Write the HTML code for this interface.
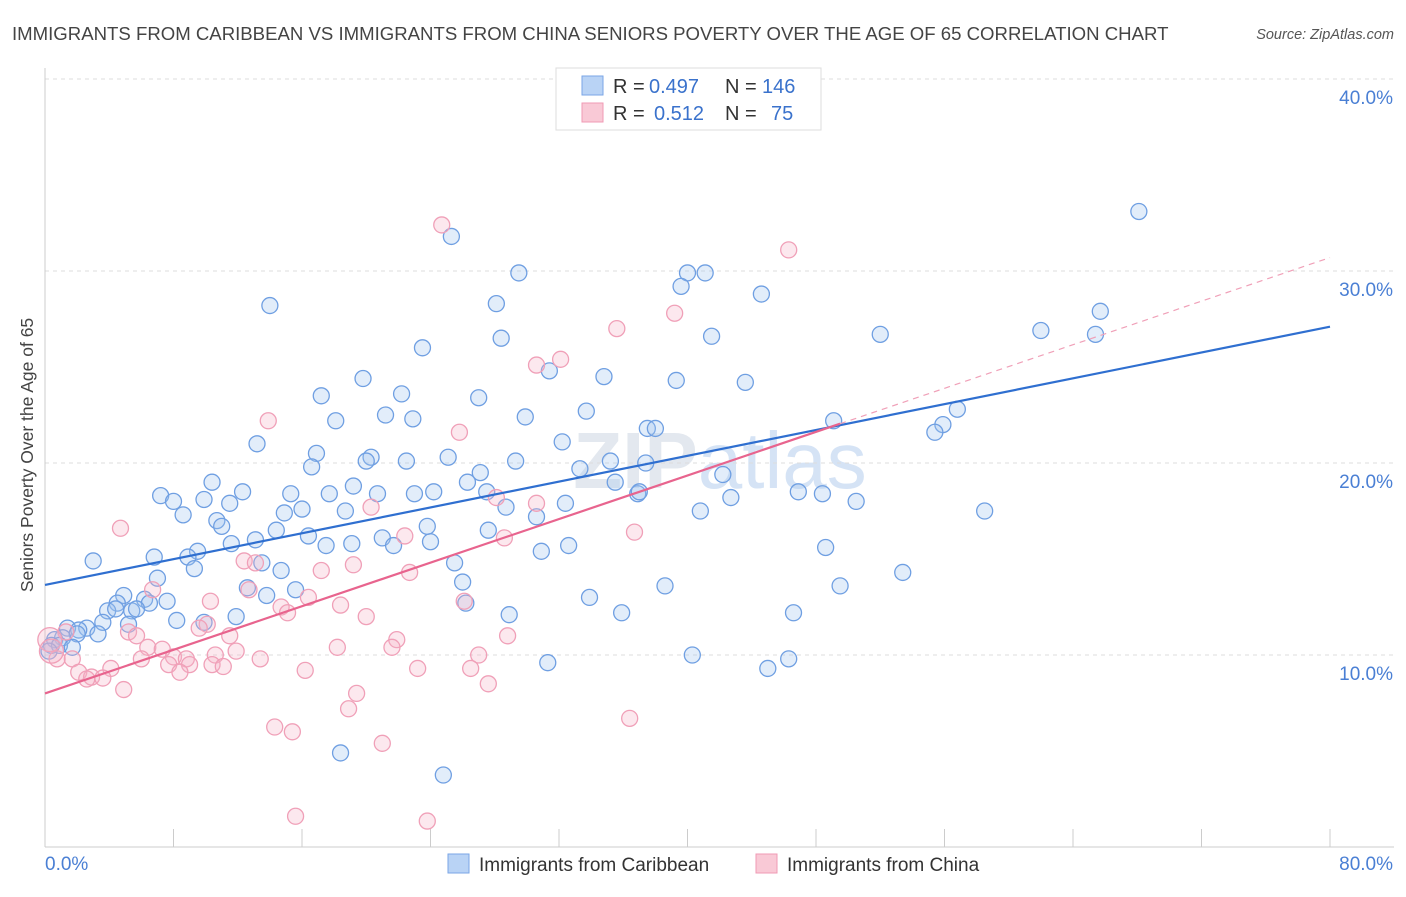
<!DOCTYPE html>
<html><head><meta charset="utf-8"><style>
body{margin:0;background:#fff;font-family:"Liberation Sans",sans-serif;}
svg text{font-family:"Liberation Sans",sans-serif;}
</style></head><body>
<svg id="chart" width="1406" height="892" xmlns="http://www.w3.org/2000/svg">
<text x="12" y="40" font-size="18.6" fill="#444">IMMIGRANTS FROM CARIBBEAN VS IMMIGRANTS FROM CHINA SENIORS POVERTY OVER THE AGE OF 65 CORRELATION CHART</text>
<text x="1394" y="39" font-size="14.5" fill="#555" font-style="italic" text-anchor="end">Source: ZipAtlas.com</text>
<text x="720" y="488" font-size="80" fill="#e3e8ef" text-anchor="middle" font-family="Liberation Serif" font-weight="bold">ZIP<tspan font-family="Liberation Sans" font-weight="normal" fill="#d5e3f5">atlas</tspan></text>
<g id="grid"></g><g id="marks"></g><g id="lines"></g>
<text transform="translate(33,455) rotate(-90)" font-size="17.5" fill="#444" text-anchor="middle">Seniors Poverty Over the Age of 65</text>
<g>
<rect x="556" y="68" width="265" height="62" fill="#fff" stroke="#ddd"/>
<rect x="582" y="76" width="21" height="19" fill="#b9d3f5" stroke="#7aa6e6"/>
<rect x="582" y="103" width="21" height="19" fill="#f9c9d6" stroke="#f09ab4"/>
<text x="613" y="93" font-size="20" fill="#333">R =</text>
<text x="649" y="93" font-size="20" fill="#3a72cc">0.497</text>
<text x="725" y="93" font-size="20" fill="#333">N =</text>
<text x="762" y="93" font-size="20" fill="#3a72cc">146</text>
<text x="613" y="120" font-size="20" fill="#333">R =</text>
<text x="654" y="120" font-size="20" fill="#3a72cc">0.512</text>
<text x="725" y="120" font-size="20" fill="#333">N =</text>
<text x="771" y="120" font-size="20" fill="#3a72cc">75</text>
</g>
<g>
<rect x="448" y="854" width="21" height="19" fill="#b9d3f5" stroke="#7aa6e6"/>
<text x="479" y="871" font-size="19" fill="#333">Immigrants from Caribbean</text>
<rect x="756" y="854" width="21" height="19" fill="#f9c9d6" stroke="#f09ab4"/>
<text x="787" y="871" font-size="19" fill="#333">Immigrants from China</text>
</g>
</svg>
<script>
const yTicks=[10,20,30,40];
const yTickLabels=["10.0%","20.0%","30.0%","40.0%"];
const xTicks=[0,8,16,24,32,40,48,56,64,72,80];
const xEndLabels=["0.0%","80.0%"];
const blueX=[68.1,25.3,29.5,40.0,41.1,39.6,44.6,14.0,28.1,65.7,52.0,62.0,65.4,41.5,28.4,23.5,31.4,34.8,19.8,39.3,43.6,17.2,22.2,27.0,33.7,56.8,21.2,22.9,29.9,18.1,49.1,55.9,55.4,37.5,38.0,32.2,13.2,16.9,20.3,20.0,25.1,22.5,29.3,35.2,37.4,33.3,16.6,27.1,42.2,26.3,10.4,35.5,19.2,7.2,12.3,15.3,17.7,20.7,23.0,24.2,27.5,36.9,37.0,46.9,48.4,8.0,9.9,11.5,42.7,50.5,32.4,16.0,18.7,28.7,14.9,40.8,58.5,8.6,10.7,30.6,11.0,23.8,14.4,27.6,16.4,21.0,11.6,13.1,17.5,19.1,21.7,24.0,32.6,48.6,9.5,30.9,3.0,6.8,8.9,13.5,25.5,9.3,14.7,53.4,7.0,26.0,38.6,49.5,12.6,15.6,4.9,13.8,33.9,4.5,6.2,7.6,6.5,26.2,3.9,4.4,5.4,5.7,35.9,46.6,28.9,11.9,8.2,3.6,9.9,5.2,1.4,2.6,2.1,3.3,2.0,1.1,0.6,0.4,0.9,1.7,0.25,40.3,46.3,31.3,45.0,18.4,24.8];
const blueY=[33.1,31.8,29.9,29.9,29.9,29.2,28.8,28.2,28.3,27.9,26.7,26.9,26.7,26.6,26.5,26.0,24.8,24.5,24.4,24.3,24.2,23.5,23.6,23.4,22.7,22.8,22.5,22.3,22.4,22.2,22.2,22.0,21.6,21.8,21.8,21.1,21.0,20.5,20.3,20.1,20.3,20.1,20.1,20.1,20.0,19.7,19.8,19.5,19.4,19.0,19.0,19.0,18.8,18.3,18.5,18.4,18.4,18.4,18.4,18.5,18.5,18.4,18.5,18.5,18.4,18.0,18.1,17.9,18.2,18.0,17.9,17.6,17.5,17.7,17.4,17.5,17.5,17.3,17.0,17.2,16.7,16.7,16.5,16.5,16.2,16.1,15.8,16.0,15.7,15.8,15.7,15.9,15.7,15.6,15.4,15.4,14.9,15.1,15.1,14.8,14.8,14.5,14.4,14.3,14.0,13.8,13.6,13.6,13.5,13.4,13.1,13.1,13.0,12.7,12.9,12.8,12.7,12.7,12.3,12.4,12.3,12.4,12.2,12.2,12.1,12.0,11.8,11.7,11.7,11.6,11.4,11.4,11.3,11.1,11.1,10.9,10.8,10.5,10.5,10.4,10.2,10.0,9.8,9.6,9.3,4.9,3.75];
const pinkX=[24.7,46.3,39.2,35.6,32.1,30.6,13.9,25.8,28.1,20.3,30.6,4.7,36.7,22.4,28.6,12.4,13.1,19.2,17.2,22.7,6.7,12.7,16.4,10.3,26.1,14.7,18.4,15.1,20.0,10.1,9.6,5.2,1.3,5.7,11.5,21.9,28.8,21.6,18.2,6.4,7.3,11.9,6.0,8.0,10.6,13.4,8.8,27.0,1.7,0.75,7.7,10.4,9.0,11.1,4.1,2.1,16.2,23.2,26.5,8.4,2.9,3.6,2.6,27.6,4.9,19.4,18.9,36.4,14.3,15.4,21.0,15.6,23.8,0.3,0.4];
const pinkY=[32.4,31.1,27.8,27.0,25.4,25.1,22.2,21.6,18.2,17.7,17.9,16.6,16.4,16.2,16.1,14.9,14.8,14.7,14.4,14.3,13.4,13.4,13.0,12.8,12.8,12.5,12.6,12.2,12.0,11.6,11.4,11.2,11.2,11.0,11.0,10.8,11.0,10.4,10.4,10.4,10.3,10.2,9.8,9.9,10.0,9.8,9.8,10.0,9.8,9.8,9.5,9.5,9.5,9.4,9.3,9.1,9.2,9.3,9.3,9.1,8.85,8.8,8.75,8.5,8.2,8.0,7.2,6.7,6.25,6.0,5.4,1.6,1.35,10.8,10.2];
const blueTrend=[13.65,27.1];
const pinkTrend=[8.0,30.7];
const pinkSolidEnd=49.5;
const X0=45,X1=1330,Y0=847,Y1=79;
const sx=v=>X0+(v/80)*(X1-X0);
const sy=v=>Y0-(v/40)*(Y0-Y1);
const NS="http://www.w3.org/2000/svg";
function mk(tag,attrs,parent){const e=document.createElementNS(NS,tag);for(const k in attrs)e.setAttribute(k,attrs[k]);parent.appendChild(e);return e;}
const grid=document.getElementById('grid'),marks=document.getElementById('marks'),lines=document.getElementById('lines');
yTicks.forEach((t,i)=>{
 const l=mk('line',{x1:X0,x2:1394,y1:sy(t),y2:sy(t),stroke:'#ddd','stroke-dasharray':'4,4'},grid);
 
 
 const tx=mk('text',{x:1393,y:sy(t)+25,'font-size':19,fill:'#4a7fd4','text-anchor':'end'},grid);
 tx.textContent=yTickLabels[i];
 
 
});
const ax=mk('line',{x1:X0,x2:X0,y1:68,y2:Y0,stroke:'#ccc'},grid);


const bx=mk('line',{x1:X0,x2:1394,y1:Y0,y2:Y0,stroke:'#ccc'},grid);


xTicks.forEach(t=>{
 const l=mk('line',{x1:sx(t),x2:sx(t),y1:Y0-18,y2:Y0,stroke:'#ccc'},grid);
 
 
});
const xl0=mk('text',{x:45,y:870,'font-size':19,fill:'#4a7fd4'},grid);xl0.textContent=xEndLabels[0];


const xl1=mk('text',{x:1393,y:870,'font-size':19,fill:'#4a7fd4','text-anchor':'end'},grid);xl1.textContent=xEndLabels[1];


blueX.forEach((v,i)=>{
 const c=mk('circle',{cx:sx(v),cy:sy(blueY[i]),r:8,fill:'rgba(160,195,240,0.3)',stroke:'#6f9fe2','stroke-width':1.3},marks);
 
 
});
pinkX.forEach((v,i)=>{
 const c=mk('circle',{cx:sx(v),cy:sy(pinkY[i]),r:i>=73?12:8,fill:'rgba(245,180,200,0.3)',stroke:'#f0a0b8','stroke-width':1.3},marks);
 
 
});
const bl=mk('line',{x1:sx(0),y1:sy(blueTrend[0]),x2:sx(80),y2:sy(blueTrend[1]),stroke:'#2f6fd0','stroke-width':2.2},lines);


const pAt=x=>pinkTrend[0]+(pinkTrend[1]-pinkTrend[0])*x/80;
const pl=mk('line',{x1:sx(0),y1:sy(pAt(0)),x2:sx(pinkSolidEnd),y2:sy(pAt(pinkSolidEnd)),stroke:'#e8648e','stroke-width':2.2},lines);


const pd=mk('line',{x1:sx(pinkSolidEnd),y1:sy(pAt(pinkSolidEnd)),x2:sx(80),y2:sy(pAt(80)),stroke:'#f0a0b8','stroke-width':1.2,'stroke-dasharray':'6,5'},lines);


</script>
</body></html>
